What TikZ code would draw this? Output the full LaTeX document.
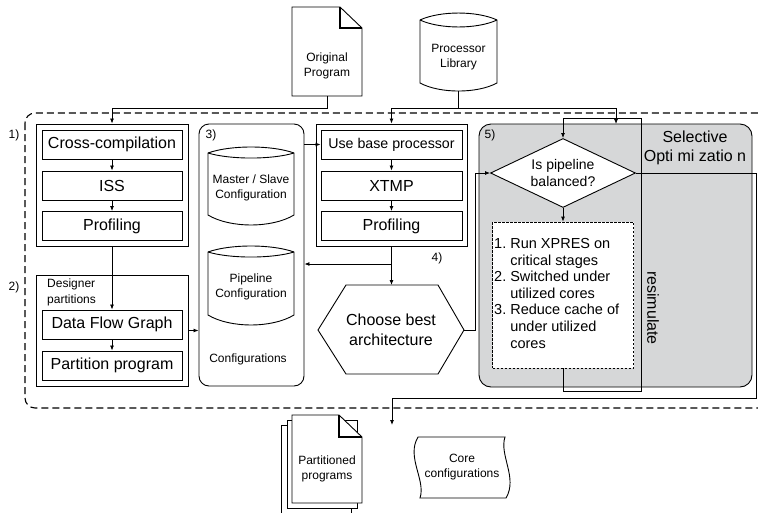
\documentclass[tikz,border=0pt]{standalone}
\usepackage{fontspec}
\setmainfont{Liberation Sans}
\usetikzlibrary{arrows.meta,calc,shapes.geometric}
\definecolor{optgray}{RGB}{214,215,216}
\begin{document}
\begin{tikzpicture}[x=1pt,y=-1pt,
  box/.style={draw,line width=0.9pt,inner sep=0pt,minimum width=140pt,minimum height=29pt,font=\fontsize{16}{19}\selectfont},
  grp/.style={draw,line width=0.9pt,inner sep=0pt},
  arr/.style={line width=0.8pt,-{Latex[length=5pt,width=4pt]}},
  ln/.style={line width=0.8pt},
  shp/.style={line width=0.9pt},
  lbl/.style={inner sep=0pt,font=\fontsize{12}{14}\selectfont},
  small/.style={inner sep=0pt,align=center,font=\fontsize{12}{14.5}\selectfont},
  big/.style={inner sep=0pt,align=center,font=\fontsize{16}{19.5}\selectfont},
]
\useasboundingbox (0,0) rectangle (758,512);

% outer dashed frame
\begin{scope}
\clip (0,0) rectangle (758,512);
\draw[line width=1.1pt, dash pattern=on 7pt off 4pt, rounded corners=10pt] (25,113) rectangle (790,408);
\end{scope}

% grey optimisation box
\node[draw, line width=0.9pt, fill=optgray, rounded corners=12pt, inner sep=0pt,
      minimum width=273pt, minimum height=263pt] (opt) at (615.5,255.5) {};

% Original Program
\node[inner sep=0pt, minimum width=70pt, minimum height=89pt] (op) at (327,51.5) {};
\draw[shp, fill=white] (292,7) -- (340,7) -- (362,28) -- (362,96) -- (292,96) -- cycle;
\draw[line width=1.5pt] (340,7) -- (340,28) -- (362,28);
\node[small] (opt1) at (327,66) {Original\\Program};

% Processor Library
\node[inner sep=0pt, minimum width=77pt, minimum height=78pt] (pl) at (458.5,52) {};
\draw[shp, fill=white] (420,20) .. controls (440,10.7) and (477,10.7) .. (497,20) -- (497,83)
   .. controls (477,93.7) and (440,93.7) .. (420,83) -- cycle;
\draw[shp] (420,20) .. controls (440,29.3) and (477,29.3) .. (497,20);
\node[small] (plt1) at (458.5,57) {Processor\\Library};

% group 1
\node[grp, minimum width=152pt, minimum height=122pt] (g1) at (112,185) {};
\node[lbl] (l1) at (14,135) {1)};
\node[box] (cc1) at (112,144.5) {Cross-compilation};
\node[box] (iss) at (112,185.5) {ISS};
\node[box] (pr1) at (112,226) {Profiling};
\draw[arr] (cc1) -- (iss);
\draw[arr] (iss) -- (pr1);

% group 2
\node[grp, minimum width=152pt, minimum height=111pt] (g2) at (112,330.5) {};
\node[lbl] (l2) at (14,287) {2)};
\node[lbl, anchor=north west, align=left, font=\fontsize{12}{16}\selectfont] (dp) at (47,279) {Designer\\partitions};
\node[box] (dfg) at (112,324.5) {Data Flow Graph};
\node[box] (pp) at (112,365.5) {Partition program};
\draw[arr] (dfg) -- (pp);
\draw[arr] (g1.south) -- (dfg.north);

% configurations
\node[grp, rounded corners=10pt, minimum width=105pt, minimum height=262pt] (cfg) at (251.5,255) {};
\node[lbl] (l3) at (211,135) {3)};
\draw[shp] (208,153) .. controls (230,145) and (272,145) .. (294,153) -- (294,215)
   .. controls (272,228.3) and (230,228.3) .. (208,215) -- cycle;
\draw[shp] (208,153) .. controls (230,159.7) and (272,159.7) .. (294,153);
\draw[shp] (208,252) .. controls (230,244) and (272,244) .. (294,252) -- (294,315)
   .. controls (272,328.3) and (230,328.3) .. (208,315) -- cycle;
\draw[shp] (208,252) .. controls (230,258.7) and (272,258.7) .. (294,252);
\node[small] (ms) at (251,188) {Master / Slave\\Configuration};
\node[small] (pc) at (251,287) {Pipeline\\Configuration};
\node[lbl] (cfgt) at (248,359) {Configurations};
\draw[arr] (g2.east) -- (g2.east -| cfg.west);

% group 4
\node[grp, minimum width=151pt, minimum height=122pt] (g4) at (391.5,185) {};
\node[box, minimum width=141pt, font=\fontsize{14.2}{17}\selectfont] (ubp) at (391.5,144.5) {Use base processor};
\node[box, minimum width=141pt] (xtmp) at (391.5,185.5) {XTMP};
\node[box, minimum width=141pt] (pr2) at (391.5,226) {Profiling};
\draw[arr] (ubp) -- (xtmp);
\draw[arr] (xtmp) -- (pr2);
\draw[arr] (cfg.east |- ubp.west) -- (ubp.west);

% choose best architecture
\draw[shp] (346,285) -- (438,285) -- (464,330) -- (438,374) -- (346,374) -- (318,330) -- cycle;
\coordinate (hN) at (391.5,285);
\coordinate (hR) at (464,330);
\node[big] (ch) at (391,330) {Choose best\\architecture};
\draw[arr] (g4.south) -- (hN);
\coordinate (br) at (391.5,264);
\draw[arr] (br) -- (br -| cfg.east);
\node[lbl] (l4) at (437,258) {4)};

% inputs
\draw[arr] (op.south) -- ++(0,12) -| (g1.north);
\coordinate (plj) at (458.5,108);
\coordinate (plin) at (616,124);
\draw[ln] (pl.south) -- (plj);
\draw[arr] (plj) -| (g4.north);
\draw[arr] (plj) -| (plin);

% section 5
\node[lbl] (l5) at (490,135) {5)};
\node[diamond, draw, fill=white, line width=0.9pt, aspect=2.1, inner sep=0pt,
      minimum width=145pt, minimum height=69pt, align=center,
      font=\fontsize{14}{17}\selectfont] (dia) at (563,173) {Is pipeline\\balanced?};
\node[draw, fill=white, line width=0.8pt, dash pattern=on 2.5pt off 1.5pt, inner sep=0pt,
      minimum width=141pt, minimum height=146pt] (lst) at (563,295) {};
\node[inner sep=0pt, anchor=west, font=\fontsize{14.5}{16.6}\selectfont] (lsttxt) at (494,295)
  {\def\arraystretch{1}\begin{tabular}{@{}l@{\ }l@{}}
   1. & Run XPRES on\\
      & critical stages\\
   2. & Switched under\\
      & utilized cores\\
   3. & Reduce cache of\\
      & under utilized\\
      & cores
   \end{tabular}};
\draw[arr] (dia.south) -- (lst.north);
\coordinate (lpB) at (641,391);
\coordinate (lpT) at (641,118);
\draw[arr] (lst.south) |- (lpB) -- (lpT) -| (dia.north);
\draw[arr] (hR) -- ++(11,0) |- (dia.west);
\coordinate (oR1) at (756,173);
\coordinate (oR2) at (756,398);
\coordinate (outp) at (392,425);
\draw[arr] (dia.east) -- (oR1) -- (oR2) -| (outp);
\node[big] (selopt) at (695,148) {Selective\\Opti mi zatio n};
\node[big, rotate=-90] (resim) at (653,308) {resimulate};

% partitioned programs
\draw[shp, fill=white] (281,425) rectangle (351,520);
\draw[shp, fill=white] (287,420) rectangle (357,508);
\draw[shp, fill=white] (292,415) -- (339,415) -- (362,437) -- (362,503) -- (292,503) -- cycle;
\draw[line width=1.5pt] (339,415) -- (339,437) -- (362,437);
\node[small] (ppg) at (327,469) {Partitioned\\programs};

% core configurations
\draw[shp] (418,437) -- (505,437) .. controls (499,455) and (518,478) .. (506,498)
   -- (420,498) .. controls (426,480) and (406,457) .. cycle;
\node[small] (cc) at (462,467) {Core\\configurations};
\end{tikzpicture}
\end{document}
